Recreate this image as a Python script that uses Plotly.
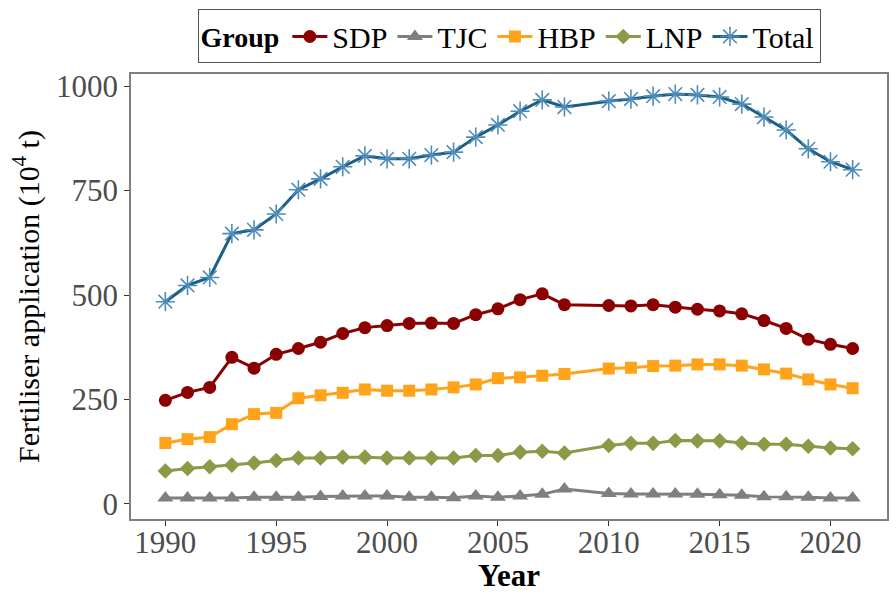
import plotly.graph_objects as go

years = [1990, 1991, 1992, 1993, 1994, 1995, 1996, 1997, 1998, 1999, 2000, 2001, 2002,
         2003, 2004, 2005, 2006, 2007, 2008, 2010, 2011, 2012, 2013, 2014, 2015, 2016,
         2017, 2018, 2019, 2020, 2021]

sdp = [248, 267, 279, 351, 325, 358, 372, 387, 408, 422, 427, 432, 433,
       432, 453, 467, 489, 503, 477, 475, 474, 477, 471, 466, 462, 455,
       439, 420, 394, 382, 372]
tjc = [14, 14, 14, 14, 16, 16, 16, 18, 19, 19, 19, 16, 16,
       15, 19, 16, 19, 23, 36, 25, 24, 24, 24, 23, 22, 21,
       17, 17, 16, 14, 14]
hbp = [146, 155, 160, 191, 215, 218, 253, 260, 266, 274, 271, 271, 274,
       279, 286, 301, 303, 307, 311, 324, 326, 330, 331, 334, 334, 331,
       322, 312, 298, 286, 277]
lnp = [79, 85, 89, 93, 98, 104, 110, 110, 112, 112, 110, 110, 110,
       110, 116, 116, 124, 126, 122, 140, 145, 145, 152, 151, 151, 146,
       143, 143, 138, 134, 132]
total = [484, 523, 542, 647, 656, 694, 752, 778, 807, 833, 826, 826, 835,
         842, 878, 907, 940, 967, 950, 964, 969, 976, 981, 979, 974, 957,
         926, 895, 850, 819, 800]

series = [
    ("SDP", sdp, "#8B0000", "#8B0000", "circle", 13),
    ("TJC", tjc, "#7F7F7F", "#7F7F7F", "triangle-up", 14),
    ("HBP", hbp, "#FFA31A", "#FFA31A", "square", 12),
    ("LNP", lnp, "#8A9A47", "#8A9A47", "diamond", 12),
    ("Total", total, "#1B5E86", "#4F8DB8", "asterisk-open", 16),
]

FONT = "Liberation Serif"

fig = go.Figure()
for name, vals, lc, mc, sym, sz in series:
    fig.add_trace(go.Scatter(
        x=years, y=vals, name=name, mode="lines+markers",
        line=dict(color=lc, width=3),
        marker=dict(symbol=sym, size=sz, color=mc,
                    line=dict(color=mc, width=1.6 if sym == "asterisk-open" else 0)),
    ))

fig.update_layout(
    width=896, height=598,
    margin=dict(l=131, r=9, t=72, b=79),
    paper_bgcolor="white", plot_bgcolor="white",
    font=dict(family=FONT, color="black"),
    showlegend=True,
    legend=dict(
        orientation="h", x=0.5, xanchor="center", y=1.145, yanchor="top",
        title=dict(text="<b>Group</b>", font=dict(family=FONT, size=28, color="black")),
        font=dict(family=FONT, size=30, color="black"),
        bordercolor="#555555", borderwidth=1, bgcolor="white",
        itemwidth=35, tracegroupgap=0,
    ),
    xaxis=dict(
        range=[1988.45, 2022.55], tickmode="array",
        tickvals=[1990, 1995, 2000, 2005, 2010, 2015, 2020],
        ticks="outside", ticklen=5, tickcolor="#333333", tickwidth=1,
        ticklabelstandoff=-10,
        tickfont=dict(family=FONT, size=31, color="#4D4D4D"),
        showgrid=False, zeroline=False, automargin=False,
        showline=True, linecolor="#7F7F7F", linewidth=1.5, mirror=True,
    ),
    yaxis=dict(
        range=[-36, 1029], tickmode="array",
        tickvals=[0, 250, 500, 750, 1000],
        ticks="outside", ticklen=5, tickcolor="#333333", tickwidth=1,
        tickfont=dict(family=FONT, size=31, color="#4D4D4D"),
        showgrid=False, zeroline=False, automargin=False,
        showline=True, linecolor="#7F7F7F", linewidth=1.5, mirror=True,
        title=dict(text="Fertiliser application (10<sup>4</sup> t)",
                   font=dict(family=FONT, size=30, color="black"), standoff=8),
    ),
    annotations=[dict(
        text="<b>Year</b>", xref="paper", yref="paper", x=0.5, y=-0.126,
        xanchor="center", yanchor="middle", showarrow=False,
        font=dict(family=FONT, size=31, color="black"),
    )],
)

fig.write_html("out.html", config={"displayModeBar": False},
               post_script="document.body.style.margin='0';document.body.style.padding='0';")
